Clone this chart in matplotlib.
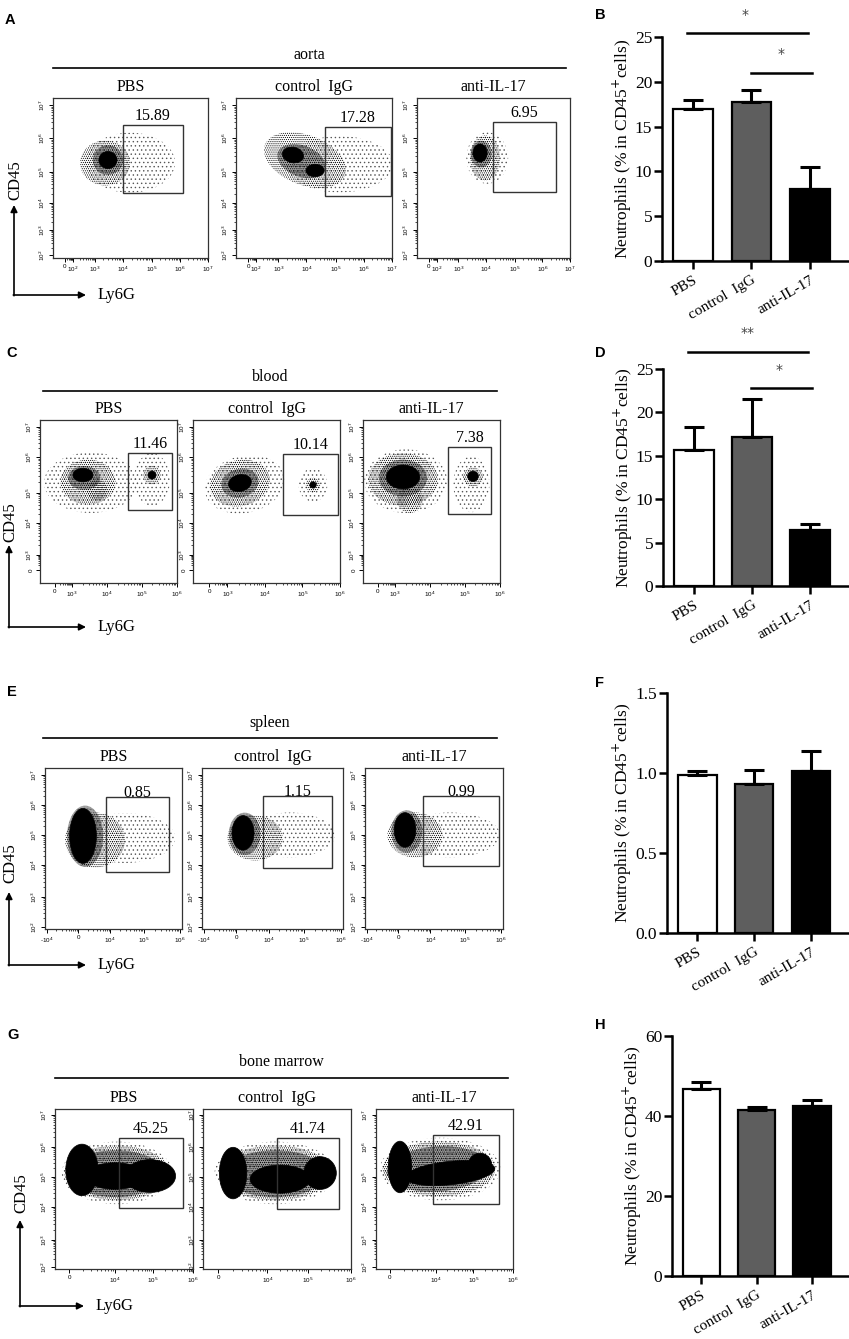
import matplotlib
matplotlib.use('Agg')
import matplotlib.pyplot as plt
from matplotlib.patches import Ellipse, Rectangle
import numpy as np

W, H = 849, 1339
SERIF = ['Liberation Serif', 'DejaVu Serif']
SANS = ['Liberation Sans', 'DejaVu Sans']
plt.rcParams['hatch.linewidth'] = 0.5

groups = ['PBS', 'control  IgG', 'anti-IL-17']
bar_colors = ['white', '#5e5e5e', 'black']

# ---------------- bar chart data ----------------
aorta_mean = [17.0, 17.7, 8.0]
aorta_err = [1.0, 1.4, 2.5]
blood_mean = [15.7, 17.2, 6.5]
blood_err = [2.6, 4.3, 0.7]
spleen_mean = [0.99, 0.93, 1.01]
spleen_err = [0.02, 0.09, 0.13]
marrow_mean = [46.7, 41.6, 42.4]
marrow_err = [1.9, 0.6, 1.5]

# ---------------- flow cytometry data (channel scale 0-1024) ----------------
aorta_xticks = [79, 132, 277, 462, 654, 839, 1024]
aorta_xlabels = ['0', '10$^2$', '10$^3$', '10$^4$', '10$^5$', '10$^6$', '10$^7$']
aorta_yticks = [19, 179, 352, 550, 768, 979]
aorta_ylabels = ['10$^2$', '10$^3$', '10$^4$', '10$^5$', '10$^6$', '10$^7$']
aorta_pct = ['15.89', '17.28', '6.95']
aorta_gates = [(462, 859, 416, 851), (584, 1018, 397, 838), (509, 930, 422, 870)]
aorta_clouds = [
    [('sparse', 509, 610, 595, 384, 0), ('dense', 344, 608, 330, 288, 0),
     ('mid', 363, 627, 200, 190, 0), ('solid', 363, 627, 120, 110, 0)],
    [('sparse', 680, 600, 700, 360, 0), ('dense', 453, 627, 560, 320, -20),
     ('mid', 430, 620, 330, 200, -20),
     ('solid', 374, 659, 140, 100, -10), ('solid', 519, 560, 120, 80, 0)],
    [('sparse', 470, 640, 280, 330, 0), ('dense', 455, 640, 200, 288, 0),
     ('mid', 430, 665, 140, 170, 0), ('solid', 422, 672, 95, 115, 0)],
]

blood_xticks = [112, 239, 501, 762, 1024]
blood_xlabels = ['0', '10$^3$', '10$^4$', '10$^5$', '10$^6$']
blood_yticks = [82, 176, 377, 565, 792, 980]
blood_ylabels = ['0', '10$^3$', '10$^4$', '10$^5$', '10$^6$', '10$^7$']
blood_pct = ['11.46', '10.14', '7.38']
blood_gates = [(658, 987, 459, 817), (627, 1010, 427, 810), (635, 957, 433, 854)]
blood_clouds = [
    [('sparse', 380, 630, 700, 380, 0), ('dense', 359, 634, 411, 283, 0),
     ('dense', 428, 584, 150, 130, 0), ('mid', 330, 660, 240, 150, 0),
     ('solid', 321, 678, 150, 85, 0),
     ('sparse', 837, 650, 270, 330, 0), ('dense', 837, 678, 130, 120, 0),
     ('solid', 837, 678, 60, 50, 0)],
    [('sparse', 360, 620, 560, 360, 10), ('dense', 327, 628, 420, 290, 10),
     ('mid', 327, 628, 260, 180, 10), ('solid', 327, 628, 160, 105, 10),
     ('sparse', 836, 616, 200, 210, 0), ('dense', 836, 616, 100, 90, 0),
     ('solid', 836, 616, 45, 40, 0)],
    [('sparse', 320, 640, 620, 400, 0), ('dense', 299, 650, 520, 330, 0),
     ('dense', 351, 521, 190, 160, 0), ('mid', 299, 660, 360, 230, 0),
     ('solid', 299, 666, 250, 150, 0),
     ('sparse', 810, 620, 270, 350, 0), ('dense', 822, 666, 150, 120, 0),
     ('solid', 822, 670, 80, 65, 0)],
]

spleen_xticks = [15, 247, 486, 740, 1010]
spleen_xlabels = ['-10$^4$', '0', '10$^4$', '10$^5$', '10$^6$']
spleen_yticks = [13, 204, 407, 598, 789, 979]
spleen_ylabels = ['10$^2$', '10$^3$', '10$^4$', '10$^5$', '10$^6$', '10$^7$']
spleen_pct = ['0.85', '1.15', '0.99']
spleen_gates = [(456, 927, 363, 840), (443, 944, 388, 846), (430, 994, 400, 846)]
spleen_clouds = [
    [('sparse', 598, 579, 747, 318, 0), ('dense', 374, 566, 448, 350, 0),
     ('mid', 300, 590, 270, 390, 0), ('solid', 284, 592, 200, 350, 0)],
    [('sparse', 639, 598, 654, 286, 0), ('dense', 385, 579, 400, 286, 0),
     ('mid', 310, 605, 230, 270, 0), ('solid', 298, 611, 160, 220, 0)],
    [('sparse', 630, 598, 742, 286, 0), ('dense', 371, 598, 408, 286, 0),
     ('mid', 310, 620, 230, 270, 0), ('solid', 297, 630, 160, 220, 0)],
]

marrow_xticks = [104, 445, 727, 1024]
marrow_xlabels = ['0', '10$^4$', '10$^5$', '10$^6$']
marrow_yticks = [13, 186, 397, 589, 781, 986]
marrow_ylabels = ['10$^2$', '10$^3$', '10$^4$', '10$^5$', '10$^6$', '10$^7$']
marrow_pct = ['45.25', '41.74', '42.91']
marrow_gates = [(475, 950, 390, 838), (512, 941, 384, 838), (426, 919, 416, 858)]
marrow_clouds = [
    [('sparse', 460, 615, 820, 400, 0), ('dense', 460, 615, 780, 350, 0),
     ('mid', 450, 610, 720, 300, 0),
     ('solid', 200, 634, 240, 330, 0), ('solid', 705, 595, 380, 210, 0),
     ('solid', 445, 595, 445, 170, 0)],
    [('sparse', 500, 615, 840, 400, 0), ('dense', 500, 615, 780, 350, 0),
     ('mid', 500, 610, 700, 300, 0),
     ('solid', 208, 614, 190, 330, 0), ('solid', 810, 614, 225, 210, 0),
     ('solid', 533, 575, 415, 180, 0)],
    [('sparse', 480, 640, 900, 400, 0), ('dense', 470, 640, 840, 350, 0),
     ('mid', 460, 640, 760, 290, 3),
     ('solid', 179, 653, 175, 330, 0), ('solid', 553, 614, 673, 150, 5),
     ('solid', 777, 666, 175, 150, 0)],
]

# ---------------- figure ----------------
fig = plt.figure(figsize=(W / 100, H / 100), dpi=100)


def rect(l, t, r, b):
    return [l / W, 1 - b / H, (r - l) / W, (b - t) / H]


def minor_positions(major):
    out = []
    for a, b in zip(major[:-1], major[1:]):
        for k in range(2, 10):
            out.append(a + np.log10(k) * (b - a))
    return out


STYLE = {
    'sparse': dict(facecolor='none', edgecolor='#555555', linewidth=0,
                   hatch='....'),
    'dense': dict(facecolor='none', edgecolor='black', linewidth=0,
                  hatch='........'),
    'mid': dict(facecolor='none', edgecolor='black', linewidth=0,
                hatch='..............'),
    'solid': dict(facecolor='black', edgecolor='black', linewidth=0.5),
}


def flow_panel(r, xt, xl, yt, yl, gate, pct, clouds, title, pct_off):
    ax = fig.add_axes(rect(*r))
    ax.set_xlim(0, 1024)
    ax.set_ylim(0, 1024)
    for kind, cx, cy, w, h, ang in clouds:
        ax.add_patch(Ellipse((cx, cy), w, h, angle=ang, **STYLE[kind]))
    x0, x1, y0, y1 = gate
    ax.add_patch(Rectangle((x0, y0), x1 - x0, y1 - y0, fill=False,
                           edgecolor='#333333', linewidth=1.0, zorder=5))
    ax.annotate(pct, ((x0 + x1) / 2, y1), xytext=(0, pct_off),
                textcoords='offset points', ha='center', va='bottom',
                fontsize=11.5, family=SERIF, zorder=6)
    ax.set_title(title, fontsize=11.5, family=SERIF, pad=5)
    ax.set_xticks(xt)
    ax.set_xticklabels(xl, fontsize=4.5, family=SANS)
    ax.set_yticks(yt)
    ax.set_yticklabels(yl, fontsize=4.5, family=SANS, rotation=90, va='center')
    ax.set_xticks(minor_positions(xt), minor=True)
    ax.set_yticks(minor_positions(yt), minor=True)
    ax.tick_params(which='major', length=3, width=0.7, pad=1.5)
    ax.tick_params(which='minor', length=1.5, width=0.5)
    for s in ax.spines.values():
        s.set_linewidth(0.9)
        s.set_color('#333333')
    return ax


def bar_panel(r, mean, err, ylim, yticks, yticklabels, sig=None):
    ax = fig.add_axes(rect(*r))
    x = np.arange(3)
    ax.bar(x, mean, width=0.68, color=bar_colors, edgecolor='black',
           linewidth=1.6, zorder=2)
    ax.errorbar(x, mean, yerr=[np.zeros(3), err], fmt='none', ecolor='black',
                elinewidth=2.2, capsize=7, capthick=2.2, zorder=3)
    ax.set_xlim(-0.53, 2.65)
    ax.set_ylim(*ylim)
    ax.set_yticks(yticks)
    ax.set_yticklabels(yticklabels, fontsize=12.5, family=SERIF)
    ax.set_xticks(x)
    ax.set_xticklabels(groups, fontsize=11, family=SERIF, rotation=30,
                       ha='right', rotation_mode='anchor')
    ax.tick_params(axis='both', length=6, width=1.8)
    ax.tick_params(axis='y', pad=1)
    ax.tick_params(axis='x', pad=3)
    for s in ['top', 'right']:
        ax.spines[s].set_visible(False)
    for s in ['left', 'bottom']:
        ax.spines[s].set_linewidth(1.8)
    ax.set_ylabel('Neutrophils (% in CD45$^{+}$cells)', fontsize=12.5,
                  family=SERIF, labelpad=1)
    if sig:
        for xa, xb, yl, star, xs, ys in sig:
            ax.plot([xa, xb], [yl, yl], color='black', linewidth=1.8,
                    clip_on=False)
            ax.text(xs, ys, star, ha='center', va='center', fontsize=10,
                    color='#444444', clip_on=False)
    return ax


row_specs = [
    (aorta_xticks, aorta_xlabels, aorta_yticks, aorta_ylabels, aorta_gates,
     aorta_pct, aorta_clouds,
     [(53, 98, 208, 258), (236, 98, 392, 258), (417, 98, 570, 258)], 1),
    (blood_xticks, blood_xlabels, blood_yticks, blood_ylabels, blood_gates,
     blood_pct, blood_clouds,
     [(40, 420, 177, 583), (193, 420, 340, 583), (363, 420, 500, 583)], 1),
    (spleen_xticks, spleen_xlabels, spleen_yticks, spleen_ylabels,
     spleen_gates, spleen_pct, spleen_clouds,
     [(45, 768, 182, 929), (202, 768, 343, 929), (365, 768, 503, 929)], -3),
    (marrow_xticks, marrow_xlabels, marrow_yticks, marrow_ylabels,
     marrow_gates, marrow_pct, marrow_clouds,
     [(55, 1109, 193, 1269), (203, 1109, 351, 1269), (376, 1109, 513, 1269)], 1),
]
for xt, xl, yt, yl, gates, pcts, clouds, boxes, off in row_specs:
    for i in range(3):
        flow_panel(boxes[i], xt, xl, yt, yl, gates[i], pcts[i], clouds[i],
                   groups[i], off)

bar_panel((662, 37, 848, 261), aorta_mean, aorta_err, (0, 25),
          [0, 5, 10, 15, 20, 25], ['0', '5', '10', '15', '20', '25'],
          sig=[(-0.1, 1.97, 25.4, '*', 0.89, 27.4),
               (0.99, 2.03, 21.0, '*', 1.5, 23.1)])
bar_panel((663, 369, 848, 586), blood_mean, blood_err, (0, 25),
          [0, 5, 10, 15, 20, 25], ['0', '5', '10', '15', '20', '25'],
          sig=[(-0.1, 1.97, 27.0, '**', 0.92, 29.1),
               (0.99, 2.03, 22.8, '*', 1.47, 24.9)])
bar_panel((667, 693, 848, 933), spleen_mean, spleen_err, (0, 1.5),
          [0, 0.5, 1.0, 1.5], ['0.0', '0.5', '1.0', '1.5'])
bar_panel((672, 1036, 848, 1276), marrow_mean, marrow_err, (0, 60),
          [0, 20, 40, 60], ['0', '20', '40', '60'])

# ----- overlay: headers, arrows, panel letters -----
ov = fig.add_axes([0, 0, 1, 1], zorder=10)
ov.set_xlim(0, W)
ov.set_ylim(H, 0)
ov.axis('off')
ov.patch.set_alpha(0)

headers = [('aorta', 53, 566, 68, 55), ('blood', 43, 497, 391, 377),
           ('spleen', 43, 497, 738, 723), ('bone marrow', 55, 508, 1078, 1062)]
for name, xa, xb, yl, yt in headers:
    ov.plot([xa, xb], [yl, yl], color='black', linewidth=1.2)
    ov.text((xa + xb) / 2, yt, name, ha='center', va='center', fontsize=11.5,
            family=SERIF)

arrows = [(14, 295, 205, 86, 180), (9, 627, 545, 86, 522),
          (9, 965, 892, 86, 863), (20, 1306, 1220, 84, 1193)]
for ax_x, y0, ytop, xr, ycd in arrows:
    ov.annotate('', xy=(ax_x, ytop), xytext=(ax_x, y0 + 0.7),
                arrowprops=dict(arrowstyle='-|>', color='black', lw=1.2,
                                mutation_scale=10, shrinkA=0, shrinkB=0))
    ov.annotate('', xy=(xr, y0), xytext=(ax_x - 0.7, y0),
                arrowprops=dict(arrowstyle='-|>', color='black', lw=1.2,
                                mutation_scale=10, shrinkA=0, shrinkB=0))
    ov.text(ax_x + 1, ycd, 'CD45', rotation=90, ha='center', va='center',
            fontsize=12, family=SERIF)
    ov.text(xr + 12, y0, 'Ly6G', ha='left', va='center', fontsize=12,
            family=SERIF)

letters = [('A', 10, 20), ('B', 600, 15), ('C', 12, 353), ('D', 600, 353),
           ('E', 12, 692), ('F', 600, 683), ('G', 13, 1035), ('H', 600, 1025)]
for t, x, y in letters:
    ov.text(x, y, t, ha='center', va='center', fontsize=10.5,
            fontweight='bold', family=SANS)

fig.savefig('out.png', dpi=100)
